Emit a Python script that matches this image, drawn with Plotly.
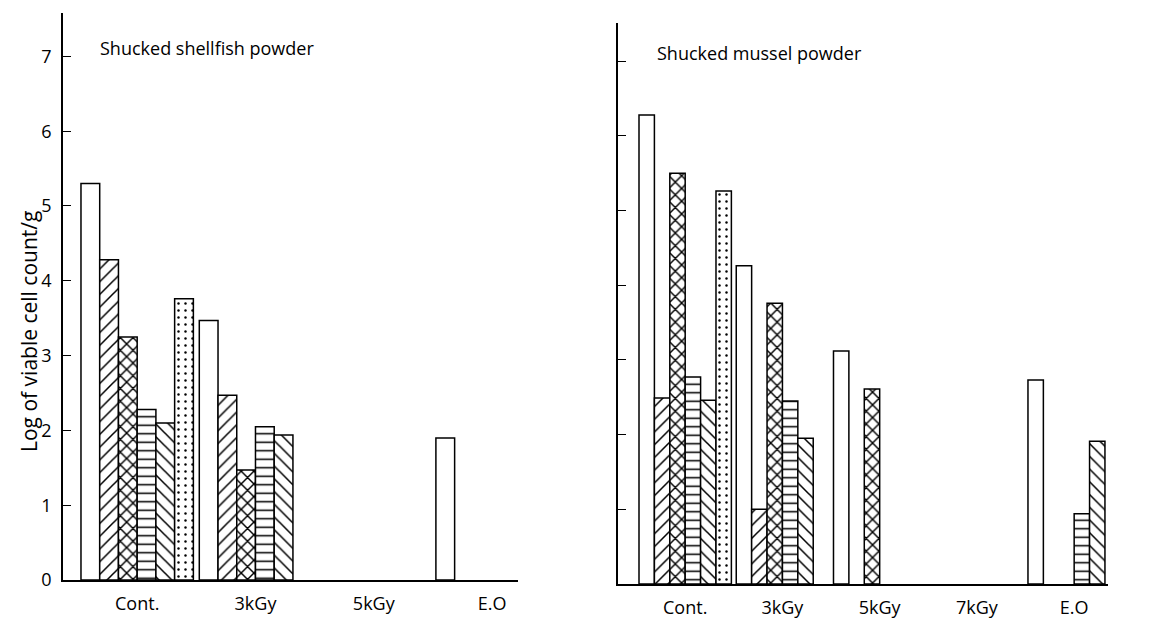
import plotly.graph_objects as go

# ---- data ----
cats_left = ["Cont.", "3kGy", "5kGy", "E.O"]
cats_right = ["Cont.", "3kGy", "5kGy", "7kGy", "E.O"]

# Shucked shellfish powder (log viable cell count / g)
left_open = [5.30, 3.47, None, 1.90]
left_slash = [4.28, 2.47, None, None]
left_cross = [3.25, 1.47, None, None]
left_horiz = [2.28, 2.05, None, None]
left_back = [2.10, 1.94, None, None]
left_dots = [3.76, None, None, None]

# Shucked mussel powder
right_open = [6.28, 4.26, 3.12, None, 2.73]
right_slash = [2.49, 1.00, None, None, None]
right_cross = [5.50, 3.76, 2.61, None, None]
right_horiz = [2.77, 2.45, None, None, 0.94]
right_back = [2.46, 1.95, None, None, 1.91]
right_dots = [5.26, None, None, None, None]

yticks = [0, 1, 2, 3, 4, 5, 6, 7]

W, H = 1160, 641
FONT = "Open Sans"

styles = [
    dict(shape="", size=8, solidity=0.2),
    dict(shape="/", size=9, solidity=0.17),
    dict(shape="x", size=9, solidity=0.3),
    dict(shape="-", size=8.5, solidity=0.18),
    dict(shape="\\", size=9, solidity=0.17),
    dict(shape=".", size=7, solidity=0.1),
]

fig = go.Figure()

def add_series(cats, series, xa, ya):
    for vals, st in zip(series, styles):
        fig.add_trace(go.Bar(
            x=cats, y=vals, xaxis=xa, yaxis=ya, showlegend=False,
            marker=dict(
                color="white",
                line=dict(color="black", width=1.5),
                pattern=dict(shape=st["shape"], size=st["size"],
                             solidity=st["solidity"], fgcolor="black",
                             bgcolor="white", fillmode="replace"),
            ),
            hoverinfo="x+y",
        ))

add_series(cats_left, [left_open, left_slash, left_cross, left_horiz, left_back, left_dots], "x", "y")
add_series(cats_right, [right_open, right_slash, right_cross, right_horiz, right_back, right_dots], "x2", "y2")

axis_common = dict(showgrid=False, zeroline=False, showline=True, linecolor="black",
                   linewidth=1.5, automargin=False)

fig.update_layout(
    width=W, height=H,
    margin=dict(l=0, r=0, t=0, b=0),
    paper_bgcolor="white", plot_bgcolor="white",
    barmode="group", bargap=0.05, bargroupgap=0,
    font=dict(family=FONT, color="black", size=18),
    xaxis=dict(domain=[55 / W, 510 / W], range=[-0.627, 3.219], type="category",
               ticks="", tickfont=dict(size=18), ticklabelstandoff=7,
               anchor="y", **axis_common),
    yaxis=dict(domain=[1 - 572 / H, 1 - 5 / H], range=[0, 7.58], tickvals=yticks,
               ticks="inside", ticklen=8, tickwidth=1.3, tickcolor="black",
               tickfont=dict(size=18), ticklabelstandoff=6, anchor="x",
               **axis_common),
    xaxis2=dict(domain=[610 / W, 1100 / W], range=[-0.691, 4.348], type="category",
                ticks="", tickfont=dict(size=18), ticklabelstandoff=7,
                anchor="y2", **axis_common),
    yaxis2=dict(domain=[1 - 576 / H, 1 - 15 / H], range=[0, 7.51], tickvals=yticks,
                ticks="inside", ticklen=8, tickwidth=1.3, tickcolor="black",
                showticklabels=False, anchor="x2", **axis_common),
    annotations=[
        dict(text="Shucked shellfish powder", x=90 / W, y=1 - 40 / H, xref="paper", yref="paper",
             xanchor="left", yanchor="middle", showarrow=False, font=dict(size=18)),
        dict(text="Shucked mussel powder", x=647 / W, y=1 - 45 / H, xref="paper", yref="paper",
             xanchor="left", yanchor="middle", showarrow=False, font=dict(size=18)),
        dict(text="Log of viable cell count/g", x=21 / W, y=1 - 324 / H, xref="paper", yref="paper",
             xanchor="center", yanchor="middle", textangle=-90, showarrow=False,
             font=dict(size=21)),
    ],
)

fig.write_html("out.html")
